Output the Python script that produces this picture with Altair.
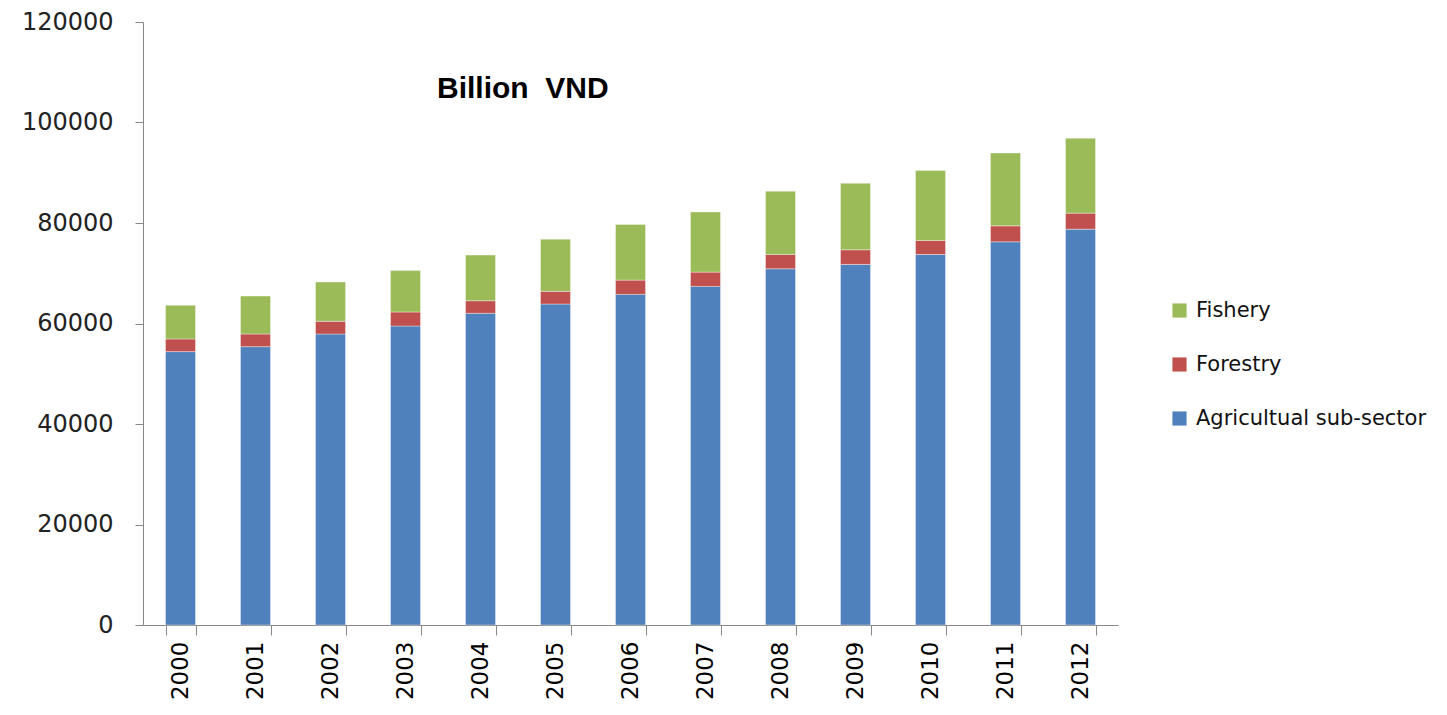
import altair as alt
import pandas as pd

years = ["2000", "2001", "2002", "2003", "2004", "2005", "2006",
         "2007", "2008", "2009", "2010", "2011", "2012"]
agri = [54400, 55390, 57910, 59500, 62030, 63870, 65800, 67390, 70890, 71760, 73750, 76260, 78780]
forestry = [2520, 2520, 2530, 2790, 2500, 2530, 2840, 2840, 2850, 2910, 2780, 3170, 3180]
fishery = [6700, 7550, 7810, 8240, 9080, 10390, 11070, 11980, 12590, 13240, 13900, 14510, 14900]

series_names = ["Agricultual sub-sector", "Forestry", "Fishery"]
legend_order = ["Fishery", "Forestry", "Agricultual sub-sector"]
colors = ["#9BBB59", "#C0504D", "#4F81BD"]

rows = []
for i, y in enumerate(years):
    for k, (name, vals) in enumerate(zip(series_names, [agri, forestry, fishery])):
        rows.append({"Year": y, "Sector": name, "Value": vals[i], "rank": k})
df = pd.DataFrame(rows)

font = "DejaVu Sans"

chart = alt.Chart(df).mark_bar(stroke="#ffffff", strokeWidth=0.6, strokeOpacity=0.6).encode(
    x=alt.X("Year:N", sort=years,
            scale=alt.Scale(paddingInner=0.6, paddingOuter=0.3),
            axis=alt.Axis(title=None, labelAngle=270, labelAlign="right", labelBaseline="middle",
                          tickBand="extent", tickSize=10, tickColor="#888888",
                          domainColor="#888888", labelFontSize=23, labelFont=font,
                          labelColor="#000000", labelPadding=6, grid=False)),
    y=alt.Y("Value:Q", stack="zero",
            scale=alt.Scale(domain=[0, 120000], nice=False),
            axis=alt.Axis(title=None, values=[0, 20000, 40000, 60000, 80000, 100000, 120000],
                          format="d", tickSize=8, tickColor="#888888", domainColor="#888888",
                          labelFontSize=24, labelFont=font, labelColor="#222222",
                          labelPadding=22, grid=False)),
    color=alt.Color("Sector:N",
                    scale=alt.Scale(domain=legend_order, range=colors),
                    legend=alt.Legend(title=None, orient="none", legendX=1026, legendY=278,
                                      symbolType="square", symbolSize=200, symbolStrokeWidth=0,
                                      labelFontSize=21, labelFont=font, labelColor="#111111",
                                      labelLimit=0, rowPadding=32, labelOffset=6)),
    order=alt.Order("rank:Q", sort="ascending"),
).properties(
    width=975, height=603,
    title=alt.TitleParams("Billion\u00a0\u00a0VND", anchor="start", frame="group", dx=294, dy=98,
                          font="Liberation Sans", fontSize=30, fontWeight="bold", color="#000000"),
    autosize=alt.AutoSizeParams(type="none"),
    padding={"left": 135, "top": 14, "right": 320, "bottom": 76},
).configure_view(stroke=None)

chart.save("out.html", embed_options={"renderer": "svg", "actions": False})
